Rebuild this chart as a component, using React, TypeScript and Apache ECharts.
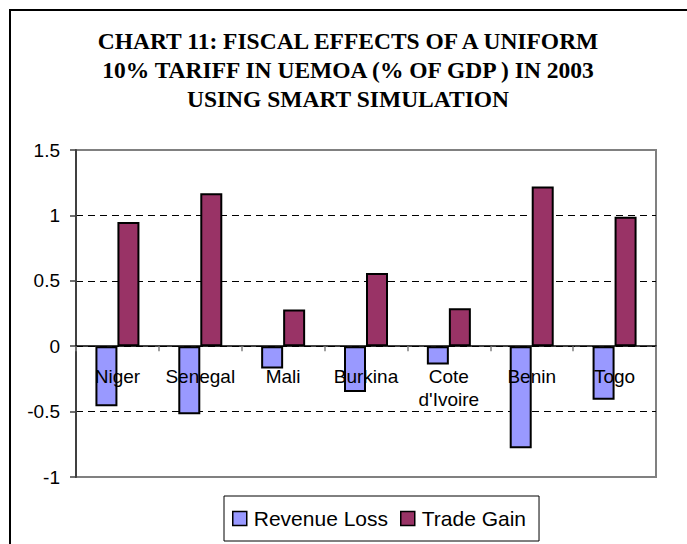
import React, { useEffect, useRef } from "react";
import * as echarts from "echarts";

const TITLE_LINES = [
  "CHART 11: FISCAL EFFECTS OF A UNIFORM",
  "10% TARIFF IN UEMOA (% OF GDP ) IN 2003",
  "USING SMART SIMULATION",
];
const CATEGORIES = ["Niger", "Senegal", "Mali", "Burkina", "Cote d'Ivoire", "Benin", "Togo"];
const REVENUE_LOSS = [-0.46, -0.52, -0.17, -0.35, -0.14, -0.78, -0.41];
const TRADE_GAIN = [0.95, 1.17, 0.28, 0.56, 0.29, 1.22, 0.99];
const SERIES_NAMES = ["Revenue Loss", "Trade Gain"];
const Y_MIN = -1;
const Y_MAX = 1.5;
const Y_STEP = 0.5;

const SANS = "'Liberation Sans', Arial, sans-serif";
const SERIF = "'Liberation Serif', 'Times New Roman', serif";

export default function App() {
  const ref = useRef<HTMLDivElement>(null);
  useEffect(() => {
    if (!ref.current) return;
    const chart = echarts.init(ref.current, null, { renderer: "svg" });
    const gridTop = 150;
    const gridBottom = 67;
    const plotH = 544 - gridTop - gridBottom;
    const zeroFromBottom = (plotH * (0 - Y_MIN)) / (Y_MAX - Y_MIN);
    chart.setOption({
      animation: false,
      backgroundColor: "#ffffff",
      title: {
        text: TITLE_LINES.join("\n"),
        left: 348,
        textAlign: "center",
        top: 26,
        padding: 0,
        textStyle: {
          fontFamily: SERIF,
          fontWeight: "bold",
          fontSize: 23.5,
          lineHeight: 29,
          color: "#000",
        },
      },
      graphic: [
        {
          type: "rect",
          shape: { x: 10, y: 10, width: 720, height: 580 },
          style: { fill: "none", stroke: "#000", lineWidth: 2 },
          silent: true,
          z: -10,
        },
      ],
      grid: {
        left: 76,
        right: 31,
        top: gridTop,
        bottom: gridBottom,
        show: true,
        borderColor: "#808080",
        borderWidth: 2,
        backgroundColor: "transparent",
      },
      legend: {
        data: SERIES_NAMES,
        left: 224,
        top: 496,
        orient: "horizontal",
        icon: "rect",
        itemWidth: 14,
        itemHeight: 14,
        itemGap: 12,
        padding: [12, 13, 12, 8],
        borderColor: "#000",
        borderWidth: 1,
        itemStyle: { borderColor: "#000", borderWidth: 1.5 },
        textStyle: {
          fontFamily: SANS,
          fontSize: 21,
          color: "#000",
          padding: [0, 0, 0, 2],
        },
      },
      xAxis: {
        type: "category",
        data: CATEGORIES,
        z: 5,
        axisLine: { show: true, onZero: true, lineStyle: { color: "#000", width: 1.5 } },
        axisTick: { show: true, length: 5, lineStyle: { color: "#808080", width: 1.5 } },
        axisLabel: {
          interval: 0,
          margin: 19 - zeroFromBottom,
          fontFamily: SANS,
          fontSize: 19,
          lineHeight: 23,
          color: "#000",
          formatter: (v: string) => v.replace(" ", "\n"),
        },
        splitLine: { show: false },
      },
      yAxis: {
        type: "value",
        min: Y_MIN,
        max: Y_MAX,
        interval: Y_STEP,
        axisLine: { show: true, lineStyle: { color: "#404040", width: 2 } },
        axisTick: { show: true, length: 6, lineStyle: { color: "#404040", width: 1.5 } },
        axisLabel: {
          margin: 16,
          fontFamily: SANS,
          fontSize: 19,
          color: "#000",
        },
        splitLine: {
          show: true,
          showMinLine: false,
          showMaxLine: false,
          lineStyle: { color: "#000", type: [7, 5], width: 1 },
        },
      },
      series: [
        {
          name: SERIES_NAMES[0],
          type: "bar",
          data: REVENUE_LOSS,
          barWidth: 22,
          barGap: "0%",
          itemStyle: { color: "#9999FF", borderColor: "#000", borderWidth: 2 },
        },
        {
          name: SERIES_NAMES[1],
          type: "bar",
          data: TRADE_GAIN,
          barWidth: 22,
          barGap: "0%",
          itemStyle: { color: "#993366", borderColor: "#000", borderWidth: 2 },
        },
      ],
    });
    return () => chart.dispose();
  }, []);
  return (
    <div
      ref={ref}
      style={{ position: "fixed", left: 0, top: 0, width: 687, height: 544 }}
    />
  );
}
